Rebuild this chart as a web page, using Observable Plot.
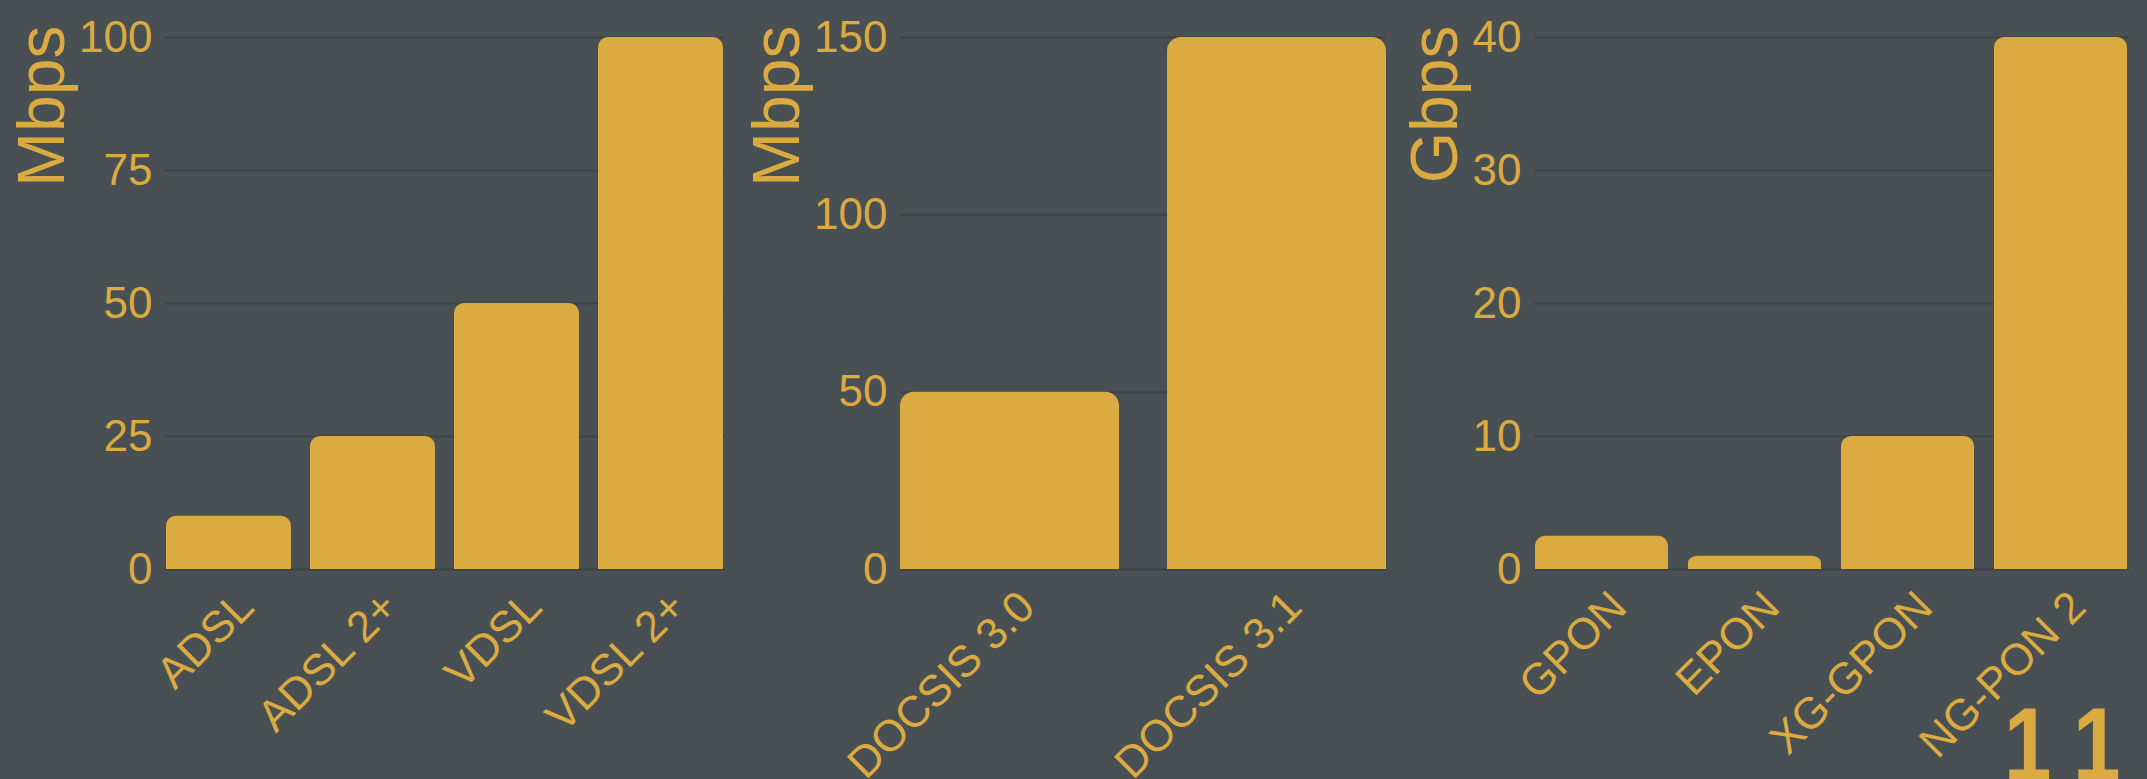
<!DOCTYPE html>
<html>
<head>
<meta charset="utf-8">
<script src="https://cdn.jsdelivr.net/npm/d3@7"></script>
<script src="https://cdn.jsdelivr.net/npm/@observablehq/plot@0.6"></script>
<style>
  html, body { margin: 0; padding: 0; background: #495053; width: 2147px; height: 779px; overflow: hidden; }
  #wrap { position: relative; width: 2147px; height: 779px; }
  .panel { position: absolute; top: 0; }
  #page { position: absolute; left: 2004px; top: 692px; font-family: "Liberation Sans", Arial, sans-serif; font-weight: 700; font-size: 104px; line-height: 1; letter-spacing: 32px; color: #dbab42; white-space: nowrap; transform: scaleX(0.82); transform-origin: 0 0; }
</style>
</head>
<body>
<div id="wrap">
  <div id="p1" class="panel" style="left:0px"></div>
  <div id="p2" class="panel" style="left:740px"></div>
  <div id="p3" class="panel" style="left:1400px"></div>
  <div id="page">11</div>
</div>
<script>
const gold = "#dbab42";
const gridColor = "#3c4246";

// DSL panel
const dslCategories = ["ADSL", "ADSL 2+", "VDSL", "VDSL 2+"];
const dslValues = [10, 25, 50, 100];
const dslTicks = [0, 25, 50, 75, 100];
const dslUnit = "Mbps";

// Cable panel
const cableCategories = ["DOCSIS 3.0", "DOCSIS 3.1"];
const cableValues = [50, 150];
const cableTicks = [0, 50, 100, 150];
const cableUnit = "Mbps";

// PON panel
const ponCategories = ["GPON", "EPON", "XG-GPON", "NG-PON 2"];
const ponValues = [2.5, 1, 10, 40];
const ponTicks = [0, 10, 20, 30, 40];
const ponUnit = "Gbps";

function panel(categories, values, ticks, unit, cfg) {
  const data = categories.map((c, i) => ({c, v: values[i]}));
  return Plot.plot({
    width: cfg.width,
    height: 779,
    marginTop: 37,
    marginBottom: 210,
    marginLeft: cfg.marginLeft,
    marginRight: cfg.marginRight,
    style: {background: "transparent", color: gold, fontFamily: "'Liberation Sans', Arial, sans-serif", fontSize: "44px", overflow: "visible"},
    x: {domain: categories, paddingInner: cfg.padding, paddingOuter: 0},
    y: {domain: [0, ticks[ticks.length - 1]]},
    marks: [
      Plot.gridY(ticks, {stroke: gridColor, strokeOpacity: 1, strokeWidth: 2}),
      Plot.barY(data, {x: "c", y: "v", fill: gold, rx: cfg.rx}),
      Plot.barY(data, {x: "c", y: d => d.v / 2, fill: gold}),
      Plot.axisY(ticks, {tickSize: 0, tickPadding: 13, fontSize: 44, label: null}),
      Plot.axisX({tickSize: 0, tickPadding: 40, dx: 27, tickRotate: -45, textAnchor: "end", lineAnchor: "bottom", fontSize: 44, label: null}),
      Plot.text([unit], {text: d => d, frameAnchor: "top-left", rotate: -90, textAnchor: "end", lineAnchor: "bottom", dx: cfg.labelDx, dy: -12, fontSize: 66, fill: gold})
    ]
  });
}

document.getElementById("p1").appendChild(panel(dslCategories, dslValues, dslTicks, dslUnit, {width: 740, marginLeft: 165, marginRight: 15, padding: 0.13, rx: 10, labelDx: -102}));
document.getElementById("p2").appendChild(panel(cableCategories, cableValues, cableTicks, cableUnit, {width: 660, marginLeft: 160, marginRight: 14, padding: 0.18, rx: 14, labelDx: -102}));
document.getElementById("p3").appendChild(panel(ponCategories, ponValues, ponTicks, ponUnit, {width: 747, marginLeft: 134, marginRight: 18, padding: 0.13, rx: 10, labelDx: -78}));
</script>
</body>
</html>
